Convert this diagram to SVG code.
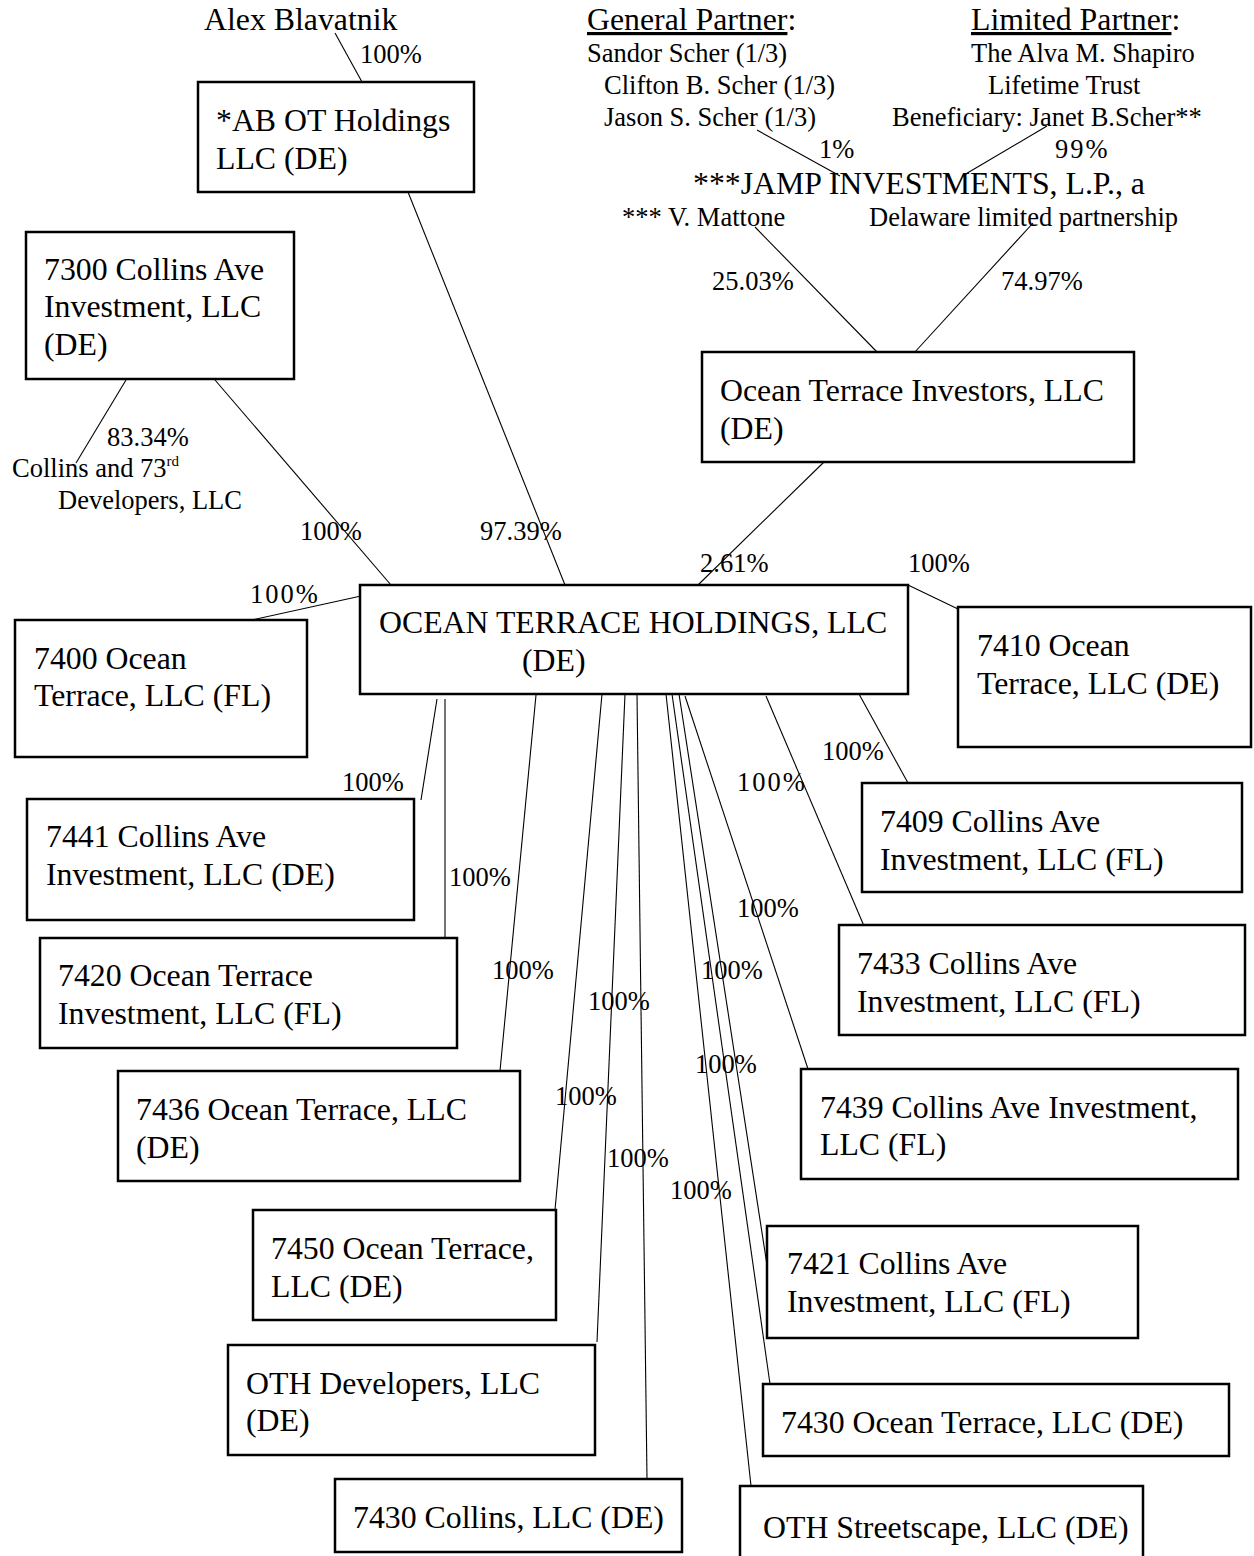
<svg xmlns="http://www.w3.org/2000/svg" width="1254" height="1556" viewBox="0 0 1254 1556">
<style>
text{font-family:"Liberation Serif","Times New Roman",serif;fill:#000}
.b{font-size:31.8px}
.s{font-size:26.5px}
.box{fill:#fff;stroke:#000;stroke-width:2.5}
.c{stroke:#000;stroke-width:1.1;fill:none}
.u{text-decoration:underline}
</style>
<rect width="1254" height="1556" fill="#fff"/>
<g id="connectors">
<line class="c" x1="335" y1="33" x2="362" y2="82"/>
<line class="c" x1="408" y1="192" x2="565" y2="585"/>
<line class="c" x1="126" y1="380" x2="76" y2="463"/>
<line class="c" x1="215" y1="380" x2="391" y2="585"/>
<line class="c" x1="757" y1="130" x2="840" y2="176"/>
<line class="c" x1="1047" y1="126" x2="964" y2="175"/>
<line class="c" x1="755" y1="227" x2="877" y2="352"/>
<line class="c" x1="1033" y1="223" x2="914" y2="353"/>
<line class="c" x1="824" y1="462" x2="698" y2="585"/>
<line class="c" x1="361" y1="596" x2="252" y2="620"/>
<line class="c" x1="908" y1="585" x2="958" y2="609"/>
<line class="c" x1="437" y1="699" x2="421" y2="800"/>
<line class="c" x1="445" y1="699" x2="445" y2="937"/>
<line class="c" x1="536" y1="695" x2="500" y2="1071"/>
<line class="c" x1="602" y1="694" x2="555" y2="1210"/>
<line class="c" x1="625" y1="694" x2="597" y2="1342"/>
<line class="c" x1="637" y1="694" x2="647" y2="1479"/>
<line class="c" x1="666" y1="694" x2="751" y2="1486"/>
<line class="c" x1="672" y1="694" x2="770" y2="1384"/>
<line class="c" x1="679" y1="694" x2="767" y2="1265"/>
<line class="c" x1="685" y1="696" x2="808" y2="1069"/>
<line class="c" x1="766" y1="696" x2="864" y2="926"/>
<line class="c" x1="859" y1="694" x2="908" y2="783"/>
</g>
<g id="labels">
<text class="b" x="204" y="30">Alex Blavatnik</text>
<text class="s" x="360" y="63">100%</text>
<text class="b" x="587" y="30"><tspan class="u">General Partner</tspan>:</text>
<text class="s" x="587" y="62">Sandor Scher (1/3)</text>
<text class="s" x="604" y="94">Clifton B. Scher (1/3)</text>
<text class="s" x="604" y="126">Jason S. Scher (1/3)</text>
<text class="b" x="971" y="30"><tspan class="u">Limited Partner</tspan>:</text>
<text class="s" x="971" y="62">The Alva M. Shapiro</text>
<text class="s" x="988" y="94">Lifetime Trust</text>
<text class="s" x="892" y="126">Beneficiary: Janet B.Scher**</text>
<text class="s" x="819" y="158">1%</text>
<text class="s" x="1055" y="158" letter-spacing="2">99%</text>
<text class="b" x="693" y="194">***JAMP INVESTMENTS, L.P., a</text>
<text class="s" x="622" y="226">*** V. Mattone</text>
<text class="s" x="869" y="226">Delaware limited partnership</text>
<text class="s" x="712" y="290">25.03%</text>
<text class="s" x="1001" y="290">74.97%</text>
<text class="s" x="107" y="446">83.34%</text>
<text class="s" x="12" y="477">Collins and 73<tspan font-size="15" dy="-11">rd</tspan></text>
<text class="s" x="58" y="509">Developers, LLC</text>
<text class="s" x="300" y="540">100%</text>
<text class="s" x="480" y="540">97.39%</text>
<text class="s" x="700" y="572">2.61%</text>
<text class="s" x="908" y="572">100%</text>
<text class="s" x="250" y="603" letter-spacing="2">100%</text>
<text class="s" x="342" y="791">100%</text>
<text class="s" x="449" y="886">100%</text>
<text class="s" x="822" y="760">100%</text>
<text class="s" x="737" y="791" letter-spacing="2">100%</text>
<text class="s" x="737" y="917">100%</text>
<text class="s" x="492" y="979">100%</text>
<text class="s" x="701" y="979">100%</text>
<text class="s" x="588" y="1010">100%</text>
<text class="s" x="695" y="1073">100%</text>
<text class="s" x="555" y="1105">100%</text>
<text class="s" x="607" y="1167">100%</text>
<text class="s" x="670" y="1199">100%</text>
</g>
<g id="ab-ot-holdings"><rect class="box" x="198" y="82" width="276" height="110"/><text class="b" x="216" y="131">*AB OT Holdings</text><text class="b" x="216" y="169">LLC (DE)</text></g>
<g id="collins-7300"><rect class="box" x="26" y="232" width="268" height="147"/><text class="b" x="44" y="280">7300 Collins Ave</text><text class="b" x="44" y="317">Investment, LLC</text><text class="b" x="44" y="355">(DE)</text></g>
<g id="ot-investors"><rect class="box" x="702" y="352" width="432" height="110"/><text class="b" x="720" y="401">Ocean Terrace Investors, LLC</text><text class="b" x="720" y="439">(DE)</text></g>
<g id="ot-holdings"><rect class="box" x="360" y="585" width="548" height="109"/><text class="b" x="379" y="633">OCEAN TERRACE HOLDINGS, LLC</text><text class="b" x="522" y="671">(DE)</text></g>
<g id="ocean-7400"><rect class="box" x="15" y="620" width="292" height="137"/><text class="b" x="34" y="669">7400 Ocean</text><text class="b" x="34" y="706">Terrace, LLC (FL)</text></g>
<g id="ocean-7410"><rect class="box" x="958" y="607" width="293" height="140"/><text class="b" x="977" y="656">7410 Ocean</text><text class="b" x="977" y="694">Terrace, LLC (DE)</text></g>
<g id="collins-7441"><rect class="box" x="27" y="799" width="387" height="121"/><text class="b" x="46" y="847">7441 Collins Ave</text><text class="b" x="46" y="885">Investment, LLC (DE)</text></g>
<g id="collins-7409"><rect class="box" x="862" y="783" width="380" height="109"/><text class="b" x="880" y="832">7409 Collins Ave</text><text class="b" x="880" y="870">Investment, LLC (FL)</text></g>
<g id="ocean-7420"><rect class="box" x="40" y="938" width="417" height="110"/><text class="b" x="58" y="986">7420 Ocean Terrace</text><text class="b" x="58" y="1024">Investment, LLC (FL)</text></g>
<g id="collins-7433"><rect class="box" x="839" y="925" width="406" height="110"/><text class="b" x="857" y="974">7433 Collins Ave</text><text class="b" x="857" y="1012">Investment, LLC (FL)</text></g>
<g id="ocean-7436"><rect class="box" x="118" y="1071" width="402" height="110"/><text class="b" x="136" y="1120">7436 Ocean Terrace, LLC</text><text class="b" x="136" y="1158">(DE)</text></g>
<g id="collins-7439"><rect class="box" x="801" y="1069" width="437" height="110"/><text class="b" x="820" y="1118">7439 Collins Ave Investment,</text><text class="b" x="820" y="1155">LLC (FL)</text></g>
<g id="ocean-7450"><rect class="box" x="253" y="1210" width="303" height="110"/><text class="b" x="271" y="1259">7450 Ocean Terrace,</text><text class="b" x="271" y="1297">LLC (DE)</text></g>
<g id="collins-7421"><rect class="box" x="767" y="1226" width="371" height="112"/><text class="b" x="787" y="1274">7421 Collins Ave</text><text class="b" x="787" y="1312">Investment, LLC (FL)</text></g>
<g id="oth-developers"><rect class="box" x="228" y="1345" width="367" height="110"/><text class="b" x="246" y="1394">OTH Developers, LLC</text><text class="b" x="246" y="1431">(DE)</text></g>
<g id="ocean-7430"><rect class="box" x="763" y="1384" width="466" height="72"/><text class="b" x="781" y="1433">7430 Ocean Terrace, LLC (DE)</text></g>
<g id="collins-7430"><rect class="box" x="335" y="1479" width="347" height="73"/><text class="b" x="353" y="1528">7430 Collins, LLC (DE)</text></g>
<g id="oth-streetscape"><rect class="box" x="740" y="1486" width="403" height="90"/><text class="b" x="763" y="1538">OTH Streetscape, LLC (DE)</text></g>
</svg>
